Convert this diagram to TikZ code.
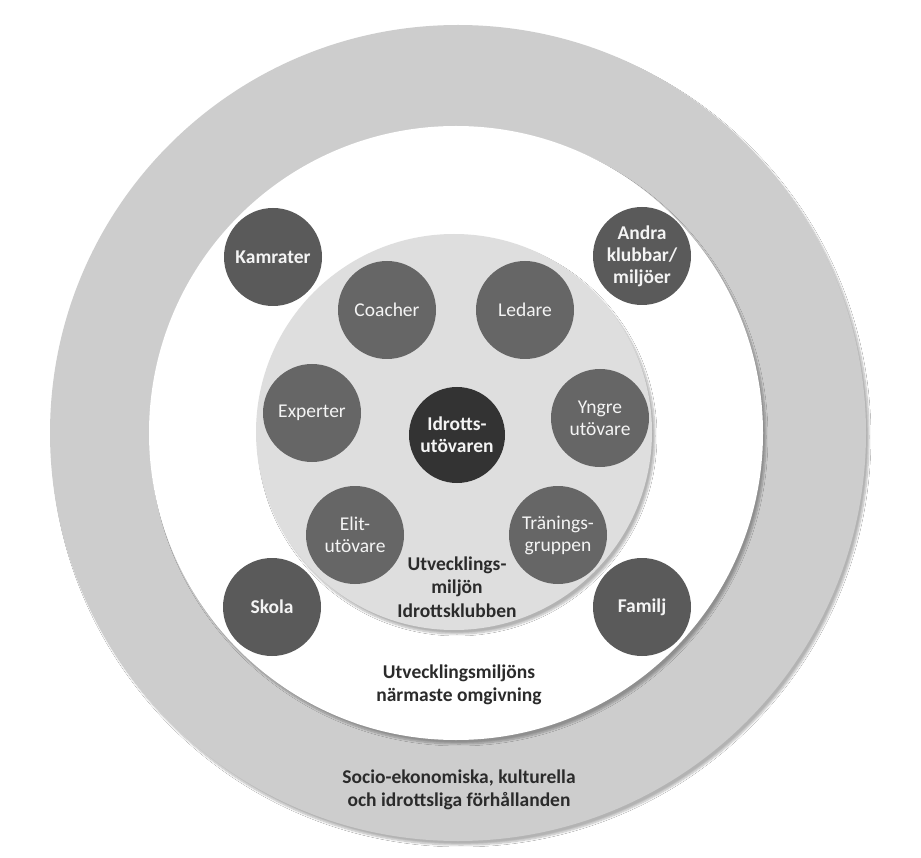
\documentclass[tikz,border=0pt]{standalone}
\usepackage{fontspec}
\setmainfont{Carlito}
\usetikzlibrary{shadows.blur}
\definecolor{ringgray}{HTML}{CDCDCD}
\definecolor{innergray}{HTML}{DEDEDE}
\definecolor{diskin}{HTML}{666666}
\definecolor{diskout}{HTML}{5A5A5A}
\definecolor{diskcore}{HTML}{333333}
\definecolor{labeltext}{HTML}{2B2B2B}
\definecolor{disktext}{HTML}{F4F4F4}
\tikzset{
  region/.style={circle, inner sep=0pt, blur shadow={shadow xshift=3pt, shadow yshift=-4pt, shadow blur steps=8, shadow opacity=30}},
  disk/.style={circle, inner sep=0pt, minimum size=98pt, align=center, text=disktext, font=\fontsize{19.5}{22}\selectfont},
  innerdisk/.style={disk, fill=diskin},
  outerdisk/.style={disk, fill=diskout, font=\fontsize{19.5}{22}\selectfont\bfseries},
  coredisk/.style={disk, fill=diskcore, minimum size=96pt, font=\fontsize{19.5}{22}\selectfont\bfseries},
  zonelabel/.style={align=center, text=labeltext, font=\fontsize{19.5}{23.5}\selectfont\bfseries, inner sep=0pt}
}
\begin{document}
\begin{tikzpicture}[x=1pt, y=-1pt]
  \useasboundingbox[fill=white] (0,0) rectangle (921,858);
  % concentric regions
  \node[region, fill=ringgray, minimum size=816pt] (outer) at (458,433) {};
  \node[region, fill=white, minimum size=614pt] (middle) at (456,433) {};
  \node[region, fill=innergray, minimum size=396pt] (inner) at (454,432) {};
  % outer environment
  \node[outerdisk] (kamrater) at (273,257) {Kamrater};
  \node[outerdisk] (andra) at (642,256) {Andra\\klubbar/\\miljöer};
  \node[outerdisk] (skola) at (272,607) {Skola};
  \node[outerdisk] (familj) at (642,607) {Familj};
  % club environment
  \node[innerdisk] (coacher) at (387,310) {Coacher};
  \node[innerdisk] (ledare) at (525,310) {Ledare};
  \node[innerdisk] (experter) at (312,413) {Experter};
  \node[innerdisk] (yngre) at (600,418) {Yngre\\utövare};
  \node[innerdisk] (elit) at (355,535) {Elit-\\utövare};
  \node[innerdisk] (traning) at (558,535) {Tränings-\\gruppen};
  \node[coredisk] (idrott) at (457,435) {Idrotts-\\utövaren};
  % zone labels
  \node[zonelabel] (lblinner) at (457,587) {Utvecklings-\\miljön\\Idrottsklubben};
  \node[zonelabel] (lblmiddle) at (459,685) {Utvecklingsmiljöns\\närmaste omgivning};
  \node[zonelabel] (lblouter) at (459,790) {Socio-ekonomiska, kulturella\\och idrottsliga förhållanden};
\end{tikzpicture}
\end{document}
